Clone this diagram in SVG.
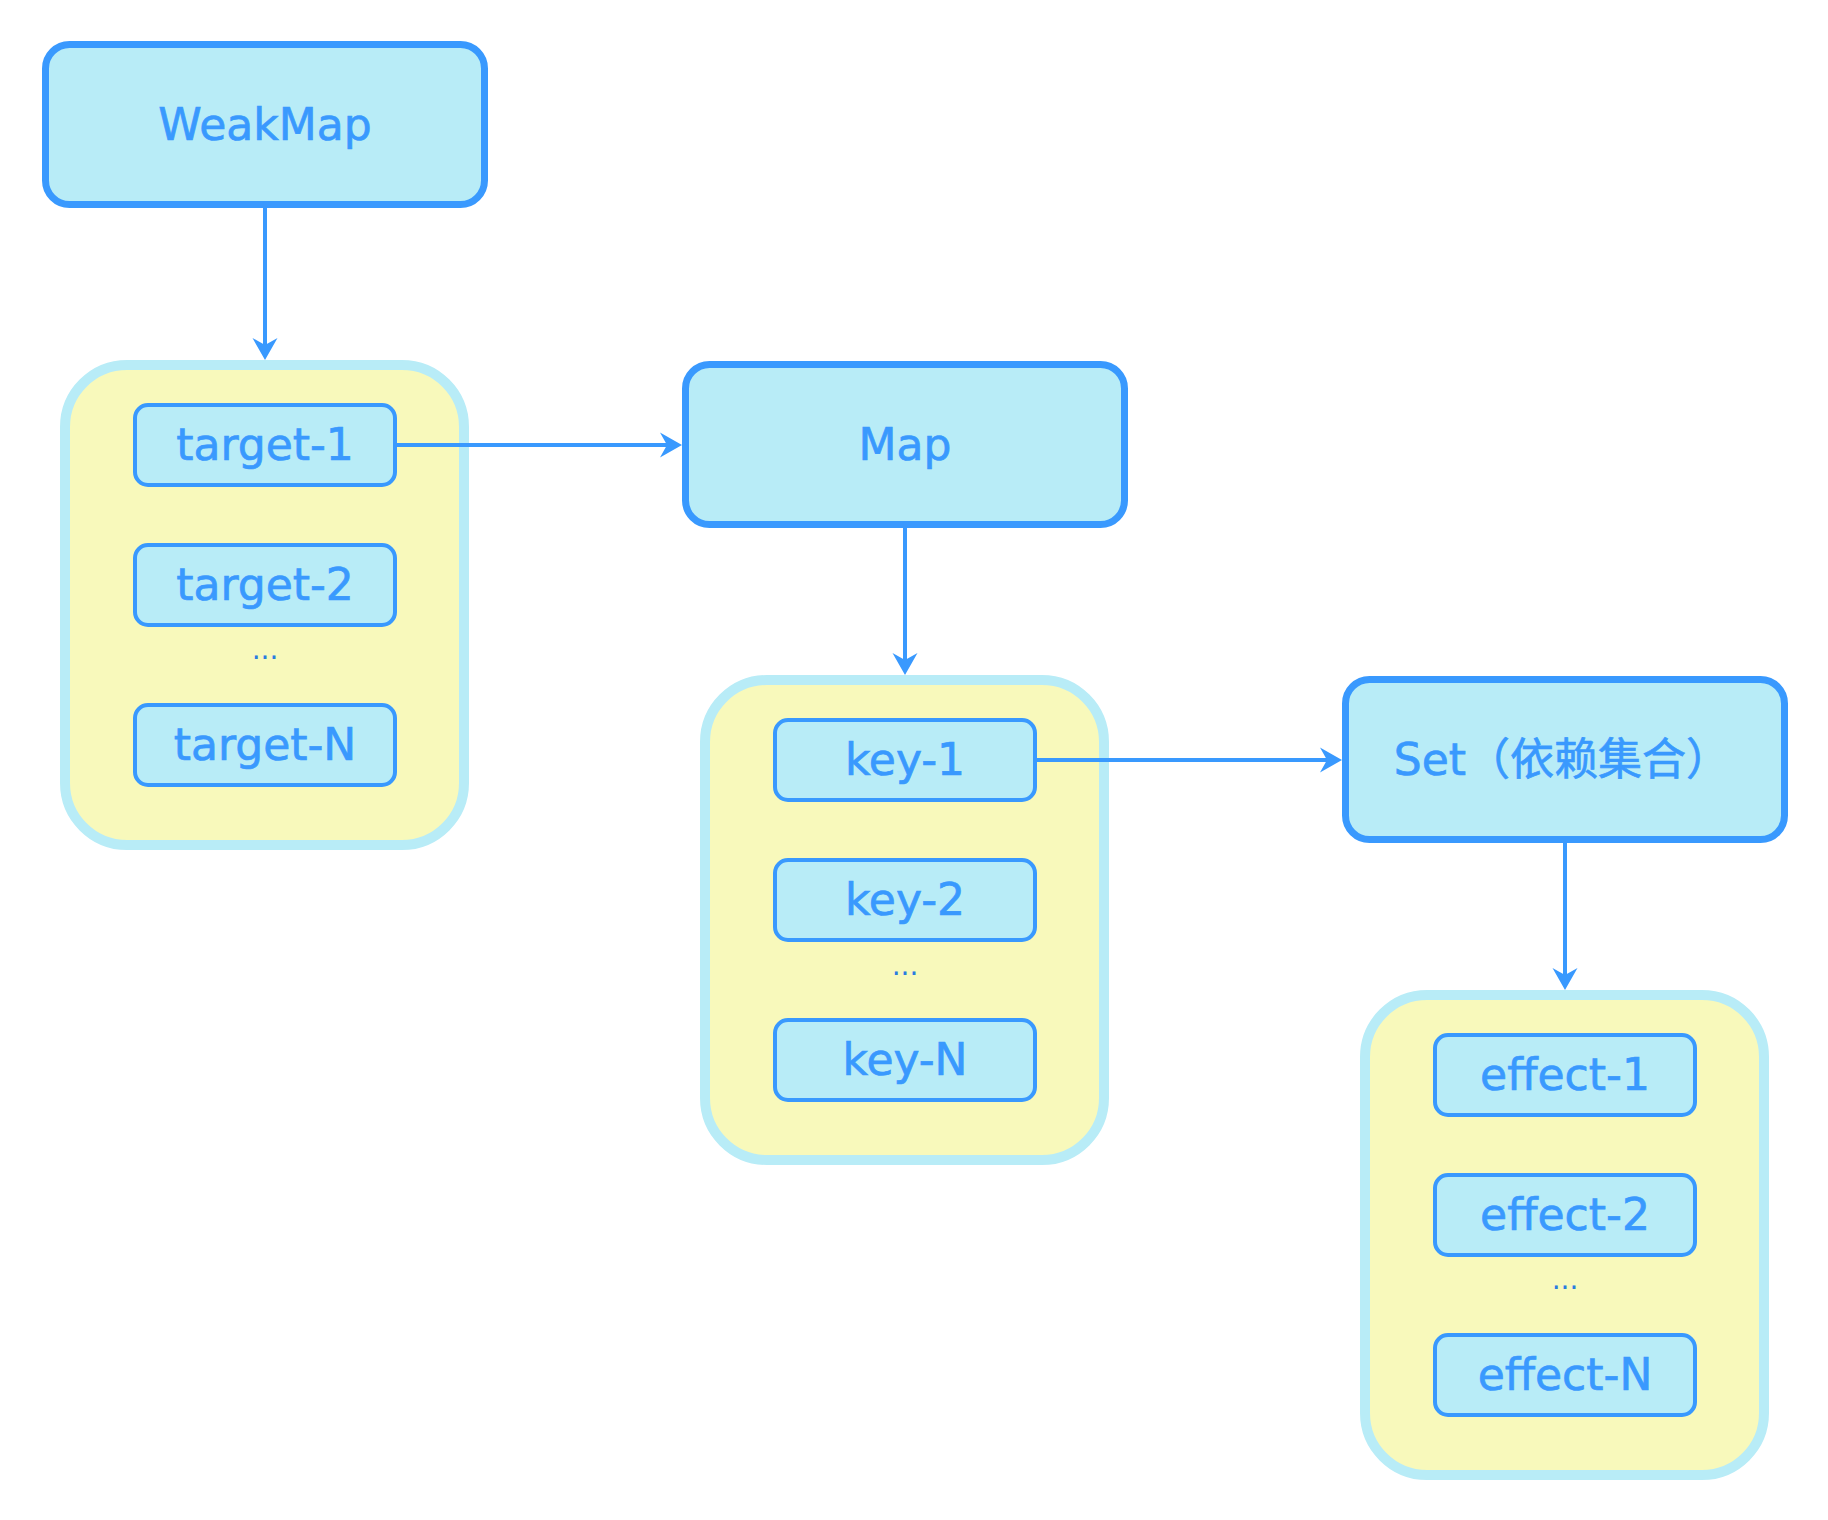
<svg xmlns="http://www.w3.org/2000/svg" width="1828" height="1520" viewBox="0 0 1828 1520">
<style>
.main{fill:#b8ecf7;stroke:#3999fe;stroke-width:7}
.cont{fill:#f8f9bb;stroke:#b8ecf7;stroke-width:10}
.item{fill:#b8ecf7;stroke:#3999fe;stroke-width:4}
.lbl{font-family:"DejaVu Sans","Noto Sans CJK SC",sans-serif;font-size:44px;fill:#3999fe;stroke:#3999fe;stroke-width:0.7;text-anchor:middle}
.dots{font-family:"DejaVu Sans",sans-serif;font-size:28px;fill:#2a7ce0;text-anchor:middle}
.edge{fill:none;stroke:#3999fe;stroke-width:4}
</style>
<defs>
<marker id="arr" markerUnits="userSpaceOnUse" markerWidth="22" markerHeight="25" viewBox="0 0 22 25" refX="12" refY="12.5" orient="auto" overflow="visible">
<path d="M22,12.5 L0,0 L7,12.5 L0,25 Z" fill="#3999fe"/>
</marker>
</defs>
<g id="weakmap">
<rect class="main" x="45.5" y="44.5" width="439" height="160" rx="24"/>
<text class="lbl" x="265" y="140">WeakMap</text>
</g>
<g id="targets">
<rect class="cont" x="65" y="365" width="399" height="480" rx="62"/>
</g>
<g id="target-1">
<rect class="item" x="135" y="405" width="260" height="80" rx="13"/>
<text class="lbl" x="265" y="460">target-1</text>
</g>
<g id="target-2">
<rect class="item" x="135" y="545" width="260" height="80" rx="13"/>
<text class="lbl" x="265" y="600">target-2</text>
</g>
<text class="dots" x="265" y="659">...</text>
<g id="target-N">
<rect class="item" x="135" y="705" width="260" height="80" rx="13"/>
<text class="lbl" x="265" y="760">target-N</text>
</g>
<g id="map">
<rect class="main" x="685.5" y="364.5" width="439" height="160" rx="24"/>
<text class="lbl" x="905" y="460">Map</text>
</g>
<g id="keys">
<rect class="cont" x="705" y="680" width="399" height="480" rx="62"/>
</g>
<g id="key-1">
<rect class="item" x="775" y="720" width="260" height="80" rx="13"/>
<text class="lbl" x="905" y="775">key-1</text>
</g>
<g id="key-2">
<rect class="item" x="775" y="860" width="260" height="80" rx="13"/>
<text class="lbl" x="905" y="915">key-2</text>
</g>
<text class="dots" x="905" y="975">...</text>
<g id="key-N">
<rect class="item" x="775" y="1020" width="260" height="80" rx="13"/>
<text class="lbl" x="905" y="1075">key-N</text>
</g>
<g id="set">
<rect class="main" x="1345.5" y="679.5" width="439" height="160" rx="24"/>
<text class="lbl" x="1562" y="775">Set（依赖集合）</text>
</g>
<g id="effects">
<rect class="cont" x="1365" y="995" width="399" height="480" rx="62"/>
</g>
<g id="effect-1">
<rect class="item" x="1435" y="1035" width="260" height="80" rx="13"/>
<text class="lbl" x="1565" y="1090">effect-1</text>
</g>
<g id="effect-2">
<rect class="item" x="1435" y="1175" width="260" height="80" rx="13"/>
<text class="lbl" x="1565" y="1230">effect-2</text>
</g>
<text class="dots" x="1565" y="1289">...</text>
<g id="effect-N">
<rect class="item" x="1435" y="1335" width="260" height="80" rx="13"/>
<text class="lbl" x="1565" y="1390">effect-N</text>
</g>
<g id="connectors">
<line class="edge" x1="265" y1="208" x2="265" y2="350" marker-end="url(#arr)"/>
<line class="edge" x1="397" y1="445" x2="672" y2="445" marker-end="url(#arr)"/>
<line class="edge" x1="905" y1="528" x2="905" y2="665" marker-end="url(#arr)"/>
<line class="edge" x1="1037" y1="760" x2="1332" y2="760" marker-end="url(#arr)"/>
<line class="edge" x1="1565" y1="843" x2="1565" y2="980" marker-end="url(#arr)"/>
</g>
</svg>
